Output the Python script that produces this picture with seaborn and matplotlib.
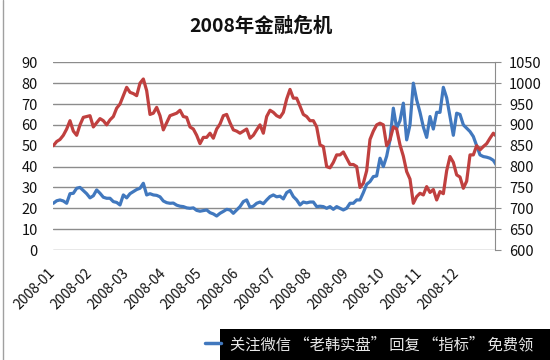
import numpy as np
import pandas as pd
import matplotlib
matplotlib.use('Agg')
import matplotlib.pyplot as plt
from matplotlib.lines import Line2D
from matplotlib.patches import Rectangle
import seaborn as sns

# left axis series (blue)
blue_vals = [22.4, 23.6, 24, 23.5, 22.4, 27, 27.2, 29.6, 30, 28.5,
             27, 25, 26, 28.8, 27.2, 25.3, 24.8, 24.8, 23.2, 22.8,
             21.6, 26.4, 25, 27, 28, 29, 29.6, 32, 26.4, 27,
             26.4, 26.2, 25.5, 23.5, 22.7, 22.4, 22.5, 21.5, 21, 20.8,
             20.2, 20, 20.2, 19, 18.6, 18.9, 19.2, 17.9, 17.3, 16.3,
             17.6, 18.5, 19.5, 19.2, 17.6, 19.2, 20.8, 23.2, 24, 20.5,
             21, 22.4, 23, 22.2, 24, 25.6, 26.4, 25.5, 25.8,
             24.5, 27.5, 28.5, 25.6, 24, 21.6, 23, 22.6, 23, 23,
             20.8, 21, 20.8, 20, 20.8, 19.5, 20.8, 20, 19.2, 20,
             22.4, 22.4, 24, 24, 27.5, 31.5, 32.8, 35.2, 35.5, 44,
             40, 45, 52.8, 68, 58.4, 62, 70.4, 52.8, 60, 80,
             72, 66, 59, 54, 64, 58, 66, 66, 78, 73,
             64, 55, 65.6, 65, 60, 58.4, 56.8, 54.4, 50, 45.6,
             44.8, 44.5, 44, 43, 40.5]

# right axis series (red)
red_vals = [850, 860, 865, 875, 890, 910, 885, 875, 900, 918,
            920, 922, 895, 905, 915, 910, 900, 912, 920, 940,
            950, 970, 990, 978, 975, 970, 1000, 1010, 982, 925,
            928, 942, 922, 888, 905, 922, 925, 928, 935, 920,
            918, 895, 890, 875, 855, 870, 870, 880, 868, 890,
            902, 922, 925, 905, 888, 885, 880, 885, 890, 868,
            875, 888, 900, 880, 920, 935, 930, 922, 918,
            930, 962, 985, 964, 964, 945, 925, 920, 910, 910,
            895, 852, 848, 800, 797, 810, 828, 828, 835, 820,
            805, 805, 800, 750, 760, 790, 865, 885, 900, 904,
            900, 850, 864, 895, 890, 852, 825, 788, 770, 712,
            728, 736, 732, 752, 738, 745, 720, 740, 735, 790,
            824, 810, 780, 775, 748, 765, 828, 828, 850, 840,
            848, 855, 868, 880, 872]

months = ['2008-01', '2008-02', '2008-03', '2008-04', '2008-05', '2008-06',
          '2008-07', '2008-08', '2008-09', '2008-10', '2008-11', '2008-12']
left_ticks = list(range(0, 100, 10))
right_ticks = list(range(600, 1100, 50))
watermark = '关注微信 “老韩实盘” 回复 “指标” 免费领'

sns.set_style('white')
plt.rcParams['font.family'] = ['Noto Sans CJK SC', 'DejaVu Sans']

df = pd.DataFrame({'idx': np.arange(len(blue_vals)),
                   'blue': blue_vals, 'red': red_vals})

BLUE = '#4178BE'
RED = '#C0403F'
GRID = '#8c8c8c'

fig = plt.figure(figsize=(5.5, 3.6), dpi=100)
ax = fig.add_axes([53/550, 1-250/360, (495-53)/550, (250-62.3)/360])
ax2 = ax.twinx()

sns.lineplot(data=df, x='idx', y='blue', ax=ax, color=BLUE, linewidth=2.3)
sns.lineplot(data=df, x='idx', y='red', ax=ax2, color=RED, linewidth=2.3)

ax.set_xlim(-0.1, 132.5)
ax.set_ylim(0, 90)
ax2.set_ylim(600, 1050)
ax.set_yticks(left_ticks)
ax2.set_yticks(right_ticks)
ax.set_xticks(range(0, 11*len(months), 11))
ax.set_xticklabels(months, rotation=45, ha='right', va='center',
                   rotation_mode='anchor', fontsize=10)
ax.set_xlabel('')
ax.set_ylabel('')
ax2.set_ylabel('')

ax.yaxis.grid(True, color=GRID, lw=1)
ax.xaxis.grid(False)
for s in ax.spines.values():
    s.set_visible(False)
for s in ax2.spines.values():
    s.set_visible(False)
ax2.spines['right'].set_visible(True)
ax2.spines['right'].set_color(GRID)
ax.tick_params(axis='y', length=0, pad=11, labelsize=10.5, labelcolor='#111111')
ax.tick_params(axis='x', length=0, pad=15, labelcolor='#111111')
ax2.tick_params(axis='y', length=4, color=GRID, pad=6, labelsize=10.5,
                labelcolor='#111111')

fig.text(261/550, 1-26.5/360, '2008年金融危机', ha='center', va='center',
         fontsize=14, fontweight='bold', color='#111111')

# chart frame on the left
fig.add_artist(Line2D([2.5/550, 2.5/550], [0, 1], color='#a0a0a0', lw=1))
# legend stub and the watermark box on top of it
fig.add_artist(Line2D([205/550, 221/550], [1-343/360, 1-343/360], color=BLUE, lw=2.5))
fig.add_artist(Rectangle((220/550, 0), 1-220/550, 31/360, transform=fig.transFigure,
                         facecolor='black', edgecolor='none'))
fig.text(230/550, 1-345/360, watermark, ha='left', va='center', fontsize=11,
         color='#e8e8e8')

fig.savefig('out.png', dpi=100)
